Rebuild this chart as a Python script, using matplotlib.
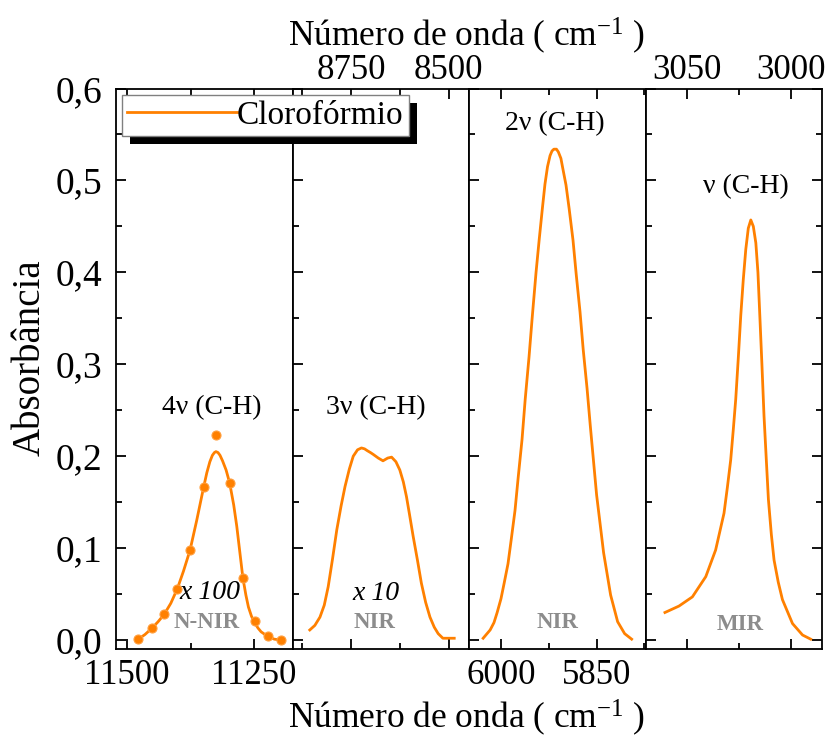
import matplotlib
matplotlib.use('Agg')
import matplotlib.pyplot as plt
from matplotlib.patches import Rectangle
from matplotlib.ticker import MultipleLocator, FuncFormatter

plt.rcParams['font.family'] = ['Liberation Serif', 'DejaVu Serif']
plt.rcParams['mathtext.fontset'] = 'custom'
plt.rcParams['mathtext.rm'] = 'Liberation Serif'
plt.rcParams['mathtext.it'] = 'Liberation Serif:italic'

orange = '#ff8000'
grey = '#8c8c8c'

# 4v (C-H), N-NIR (x 100): measured points and fitted curve
wn_4v_pts = [11478, 11451, 11427, 11401, 11376, 11349, 11324, 11298, 11272, 11249, 11223, 11197]
abs_4v_pts = [0.001, 0.013, 0.028, 0.056, 0.098, 0.167, 0.223, 0.171, 0.068, 0.021, 0.004, 0.0]
wn_4v = [11478, 11465, 11451, 11439, 11427, 11414, 11401, 11389, 11376, 11363, 11349, 11343,
         11337, 11332, 11328, 11325, 11321, 11317, 11312, 11305, 11298, 11290, 11284, 11278,
         11272, 11266, 11261, 11255, 11249, 11242, 11236, 11223, 11210, 11197]
abs_4v = [0.001, 0.006, 0.013, 0.020, 0.028, 0.040, 0.056, 0.075, 0.098, 0.130, 0.167, 0.182,
          0.194, 0.201, 0.204, 0.205, 0.204, 0.201, 0.195, 0.185, 0.171, 0.147, 0.124, 0.096,
          0.068, 0.049, 0.036, 0.026, 0.019, 0.013, 0.009, 0.004, 0.001, 0.0]

# 3v (C-H), NIR (x 10)
wn_3v = [8855, 8842, 8829, 8818, 8808, 8797, 8786, 8775, 8765, 8754, 8744, 8733, 8723, 8715,
         8708, 8700, 8693, 8680, 8668, 8656, 8646, 8635, 8625, 8616, 8608, 8600, 8591, 8580,
         8570, 8559, 8548, 8537, 8527, 8515, 8500, 8486]
abs_3v = [0.011, 0.016, 0.025, 0.038, 0.058, 0.088, 0.120, 0.146, 0.167, 0.186, 0.200, 0.207,
          0.209, 0.208, 0.206, 0.204, 0.202, 0.198, 0.195, 0.198, 0.199, 0.194, 0.185, 0.172,
          0.156, 0.136, 0.113, 0.087, 0.062, 0.041, 0.025, 0.014, 0.007, 0.002, 0.002, 0.002]

# 2v (C-H), NIR
wn_2v = [6028, 6017, 6011, 6006, 6000, 5995, 5989, 5984, 5978, 5973, 5967, 5962, 5956, 5951,
         5945, 5940, 5935, 5931, 5927, 5923, 5920, 5917, 5913, 5910, 5906, 5903, 5898, 5893,
         5887, 5882, 5876, 5871, 5865, 5860, 5850, 5839, 5828, 5817, 5806, 5795]
abs_2v = [0.002, 0.011, 0.019, 0.030, 0.045, 0.062, 0.083, 0.109, 0.141, 0.177, 0.218, 0.262,
          0.308, 0.351, 0.400, 0.436, 0.470, 0.496, 0.515, 0.527, 0.532, 0.534, 0.534, 0.531,
          0.524, 0.513, 0.495, 0.469, 0.435, 0.398, 0.357, 0.316, 0.274, 0.234, 0.158, 0.095,
          0.049, 0.020, 0.007, 0.001]

# v (C-H), MIR
wn_1v = [3060.4, 3053.7, 3047.3, 3040.9, 3036.2, 3032.2, 3030.6, 3029.0, 3027.8, 3026.6,
         3025.4, 3024.2, 3023.0, 3021.8, 3020.6, 3019.4, 3018.2, 3017.0, 3016.0, 3015.1,
         3014.1, 3013.1, 3012.0, 3011.0, 3009.6, 3008.3, 3006.3, 3004.3, 2999.5, 2994.7, 2990.8]
abs_1v = [0.030, 0.037, 0.047, 0.069, 0.098, 0.138, 0.166, 0.196, 0.228, 0.262,
          0.306, 0.353, 0.392, 0.425, 0.448, 0.457, 0.450, 0.432, 0.400, 0.353,
          0.300, 0.244, 0.196, 0.153, 0.115, 0.087, 0.063, 0.044, 0.018, 0.0055, 0.001]

xlims = [(11522, 11174), (8899, 8448), (6050, 5773), (3069.6, 2985.3)]
xmajor = [250, 250, 150, 50]
labels_top = [False, True, False, True]

fig = plt.figure(figsize=(8.3, 7.4), dpi=100)
left, width = 0.13976, 0.21272
bottom, height = 0.1226, 0.7578
axes = [fig.add_axes([left + i * width, bottom, width, height]) for i in range(4)]

for i, ax in enumerate(axes):
    ax.set_xlim(*xlims[i])
    ax.set_ylim(-0.01, 0.6)
    ax.xaxis.set_major_locator(MultipleLocator(xmajor[i]))
    ax.xaxis.set_minor_locator(MultipleLocator(xmajor[i] / 2))
    ax.yaxis.set_major_locator(MultipleLocator(0.1))
    ax.yaxis.set_minor_locator(MultipleLocator(0.05))
    for s in ax.spines.values():
        s.set_linewidth(1.3)
    ax.tick_params(which='both', direction='in', top=True, bottom=True, width=1.3,
                   labeltop=labels_top[i], labelbottom=not labels_top[i],
                   left=True, right=(i == 3), labelleft=(i == 0))
    # top labels sit closer to the frame than bottom ones
    ax.tick_params(axis='x', labelsize=25, pad=1 if labels_top[i] else 7)
    ax.tick_params(which='major', length=7)
    ax.tick_params(which='minor', length=4)

axes[0].yaxis.set_major_formatter(FuncFormatter(lambda v, p: f'{v:.1f}'.replace('.', ',')))
axes[0].tick_params(axis='y', labelsize=27, pad=10)

line, = axes[0].plot(wn_4v, abs_4v, color=orange, lw=2)
axes[0].plot(wn_4v_pts, abs_4v_pts, 'o', color=orange, ms=6.5, mec='#ffa040', mew=0.8)
axes[1].plot(wn_3v, abs_3v, color=orange, lw=2)
axes[2].plot(wn_2v, abs_2v, color=orange, lw=2)
axes[3].plot(wn_1v, abs_1v, color=orange, lw=2)

fs = 20
axes[0].text(11333, 0.253, '4ν (C-H)', ha='center', va='center', fontsize=fs)
axes[1].text(8686, 0.253, '3ν (C-H)', ha='center', va='center', fontsize=fs)
axes[2].text(5915, 0.562, '2ν (C-H)', ha='center', va='center', fontsize=fs)
axes[3].text(3021.8, 0.493, 'ν (C-H)', ha='center', va='center', fontsize=fs)
axes[0].text(11337, 0.052, 'x 100', ha='center', va='center', fontsize=fs, style='italic')
axes[1].text(8686, 0.051, 'x 10', ha='center', va='center', fontsize=fs, style='italic')
axes[0].text(11343, 0.0196, 'N-NIR', ha='center', va='center', fontsize=16.5, weight='bold', color=grey)
axes[1].text(8689, 0.0196, 'NIR', ha='center', va='center', fontsize=16.5, weight='bold', color=grey)
axes[2].text(5912, 0.0196, 'NIR', ha='center', va='center', fontsize=16.5, weight='bold', color=grey)
axes[3].text(3024.7, 0.0174, 'MIR', ha='center', va='center', fontsize=16.5, weight='bold', color=grey)

xlab = 'Número de onda ( cm$^{-1}$ )'
fig.text(467 / 830, 1 - 718 / 740, xlab, ha='center', va='center', fontsize=25.5)
fig.text(467 / 830, 1 - 36 / 740, xlab, ha='center', va='center', fontsize=25.5)
fig.text(30 / 830, 1 - 358 / 740, 'Absorbância', ha='center', va='center', fontsize=28, rotation=90)

leg = fig.legend([line], ['Clorofórmio'], loc='upper left',
                 bbox_to_anchor=(122 / 830, 1 - 95 / 740), fontsize=24,
                 frameon=True, fancybox=False, edgecolor='#808080', framealpha=1,
                 handlelength=3.3, handletextpad=0.0, borderpad=0.15, borderaxespad=0)
leg.get_frame().set_linewidth(1.0)

fig.canvas.draw()
bb = leg.get_window_extent().transformed(fig.transFigure.inverted())
fig.add_artist(Rectangle((bb.x0 + 8 / 830, bb.y0 - 8 / 740), bb.width, bb.height,
                         transform=fig.transFigure, facecolor='black', edgecolor='none', zorder=4.9))

fig.savefig('out.png', dpi=100)
